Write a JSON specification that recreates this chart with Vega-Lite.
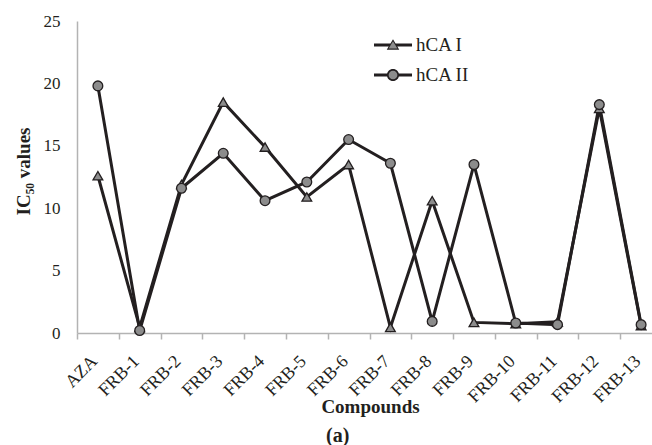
{
  "$schema": "https://vega.github.io/schema/vega-lite/v6.json",
  "autosize": {"type": "none"},
  "padding": {"left": 77, "top": 21, "right": 0, "bottom": 112},
  "width": 575,
  "height": 312,
  "background": "white",
  "config": {
    "view": {"stroke": null},
    "font": "Liberation Serif"
  },
  "title": {
    "text": "(a)",
    "orient": "bottom",
    "anchor": "start",
    "dx": 312,
    "offset": 10,
    "font": "Liberation Serif",
    "fontSize": 20,
    "fontWeight": "bold",
    "color": "#231f20"
  },
  "data": {
    "values": [
      {"compound": "AZA", "series": "hCA I", "value": 12.6},
      {"compound": "FRB-1", "series": "hCA I", "value": 0.45},
      {"compound": "FRB-2", "series": "hCA I", "value": 11.9},
      {"compound": "FRB-3", "series": "hCA I", "value": 18.5},
      {"compound": "FRB-4", "series": "hCA I", "value": 14.9},
      {"compound": "FRB-5", "series": "hCA I", "value": 10.9},
      {"compound": "FRB-6", "series": "hCA I", "value": 13.5},
      {"compound": "FRB-7", "series": "hCA I", "value": 0.45},
      {"compound": "FRB-8", "series": "hCA I", "value": 10.6},
      {"compound": "FRB-9", "series": "hCA I", "value": 0.85},
      {"compound": "FRB-10", "series": "hCA I", "value": 0.75},
      {"compound": "FRB-11", "series": "hCA I", "value": 0.9},
      {"compound": "FRB-12", "series": "hCA I", "value": 18.0},
      {"compound": "FRB-13", "series": "hCA I", "value": 0.6},
      {"compound": "AZA", "series": "hCA II", "value": 19.8},
      {"compound": "FRB-1", "series": "hCA II", "value": 0.2},
      {"compound": "FRB-2", "series": "hCA II", "value": 11.6},
      {"compound": "FRB-3", "series": "hCA II", "value": 14.4},
      {"compound": "FRB-4", "series": "hCA II", "value": 10.6},
      {"compound": "FRB-5", "series": "hCA II", "value": 12.1},
      {"compound": "FRB-6", "series": "hCA II", "value": 15.5},
      {"compound": "FRB-7", "series": "hCA II", "value": 13.6},
      {"compound": "FRB-8", "series": "hCA II", "value": 0.93},
      {"compound": "FRB-9", "series": "hCA II", "value": 13.5},
      {"compound": "FRB-10", "series": "hCA II", "value": 0.8},
      {"compound": "FRB-11", "series": "hCA II", "value": 0.67},
      {"compound": "FRB-12", "series": "hCA II", "value": 18.3},
      {"compound": "FRB-13", "series": "hCA II", "value": 0.67}
    ]
  },
  "encoding": {
    "x": {
      "field": "compound",
      "type": "nominal",
      "sort": null,
      "scale": {"type": "band", "range": [0, 585], "paddingInner": 0, "paddingOuter": 0},
      "axis": {
        "title": "Compounds",
        "titleFont": "Liberation Serif",
        "titleFontSize": 19,
        "titleFontWeight": "bold",
        "titleColor": "#231f20",
        "titleX": 293,
        "titleY": 79,
        "titleBaseline": "alphabetic",
        "titleAlign": "center",
        "labelAngle": -45,
        "labelFont": "Liberation Serif",
        "labelFontSize": 18,
        "labelColor": "#231f20",
        "labelOffset": -10,
        "labelPadding": 13,
        "tickBand": "extent",
        "tickSize": 6,
        "tickColor": "#b3b3b3",
        "tickWidth": 1.5,
        "domainColor": "#b3b3b3",
        "domainWidth": 1.5,
        "grid": false
      }
    },
    "y": {
      "field": "value",
      "type": "quantitative",
      "scale": {"domain": [0, 25], "nice": false, "zero": true},
      "axis": {
        "title": "IC₅₀  values",
        "titleFont": "Liberation Serif",
        "titleFontSize": 19,
        "titleFontWeight": "bold",
        "titleColor": "#231f20",
        "titleX": -48,
        "titleY": 150,
        "titleBaseline": "alphabetic",
        "titleAlign": "center",
        "values": [0, 5, 10, 15, 20, 25],
        "labelFont": "Liberation Serif",
        "labelFontSize": 17,
        "labelColor": "#231f20",
        "labelPadding": 17,
        "ticks": false,
        "domainColor": "#b3b3b3",
        "domainWidth": 1.5,
        "grid": false
      }
    }
  },
  "layer": [
    {
      "mark": {"type": "line", "color": "#231f20", "strokeWidth": 3},
      "encoding": {"detail": {"field": "series"}}
    },
    {
      "mark": {"type": "point", "filled": true, "fill": "#8c8c8c", "stroke": "#231f20", "strokeWidth": 1.3, "opacity": 1, "size": 95},
      "encoding": {
        "shape": {
          "field": "series",
          "type": "nominal",
          "scale": {"domain": ["hCA I", "hCA II"], "range": ["triangle-up", "circle"]},
          "legend": null
        }
      }
    },
    {
      "transform": [{"filter": "datum.value < 0"}],
      "mark": {"type": "point", "filled": true, "fill": "#231f20", "opacity": 1, "size": 1444},
      "encoding": {
        "shape": {
          "field": "series",
          "type": "nominal",
          "scale": {
            "domain": ["hCA I", "hCA II"],
            "range": [
              "M-1,-0.08H1V0.08H-1ZM0,-0.3L0.33,0.25L-0.33,0.25Z",
              "M-1,-0.08H1V0.08H-1ZM0.32,0A0.32,0.32,0,1,1,-0.32,0A0.32,0.32,0,1,1,0.32,0Z"
            ]
          },
          "legend": {
            "title": null,
            "orient": "none",
            "legendX": 296,
            "legendY": 4,
            "symbolSize": 1444,
            "symbolOpacity": 1,
            "labelFont": "Liberation Serif",
            "labelFontSize": 19,
            "labelColor": "#231f20",
            "labelOffset": 3,
            "rowPadding": 0
          }
        }
      }
    },
    {
      "transform": [{"filter": "datum.value < 0"}],
      "mark": {"type": "point", "filled": true, "fill": "#8c8c8c", "opacity": 1, "size": 1444},
      "encoding": {
        "shape": {
          "field": "series",
          "type": "nominal",
          "scale": {
            "domain": ["hCA I", "hCA II"],
            "range": [
              "M0,-0.2L0.23,0.18L-0.23,0.18Z",
              "M0.23,0A0.23,0.23,0,1,1,-0.23,0A0.23,0.23,0,1,1,0.23,0Z"
            ]
          },
          "legend": {
            "title": null,
            "orient": "none",
            "legendX": 296,
            "legendY": 4,
            "symbolSize": 1444,
            "symbolOpacity": 1,
            "labelFont": "Liberation Serif",
            "labelFontSize": 19,
            "labelColor": "#231f20",
            "labelOpacity": 0,
            "labelOffset": 3,
            "rowPadding": 0
          }
        }
      }
    }
  ],
  "resolve": {"scale": {"shape": "independent"}, "legend": {"shape": "independent"}}
}
